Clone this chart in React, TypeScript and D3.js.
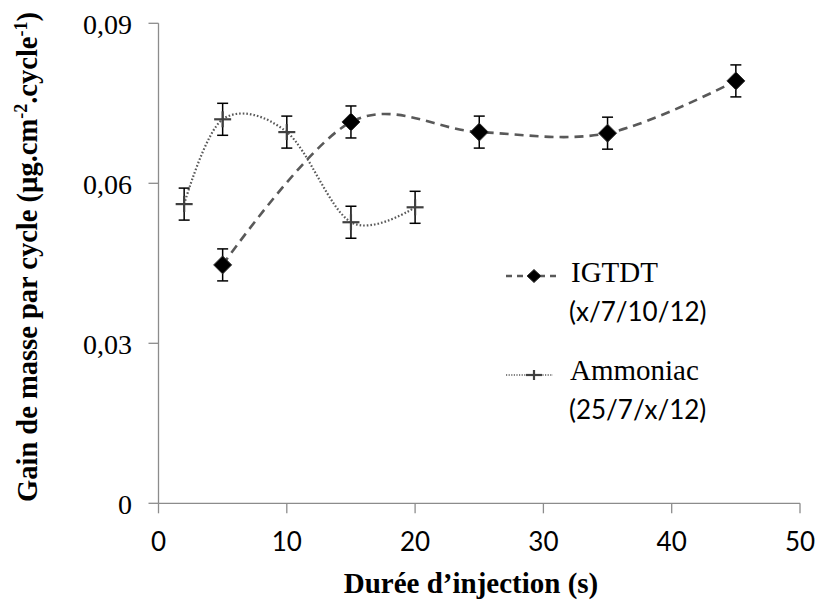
import React from "react";
import * as d3 from "d3";

const igtdtX = [5, 15, 25, 35, 45];
const igtdtY = [0.0447, 0.0715, 0.0696, 0.0694, 0.0792];
const igtdtErr = [0.003, 0.003, 0.003, 0.003, 0.003];

const ammX = [2, 5, 10, 15, 20];
const ammY = [0.0561, 0.072, 0.0696, 0.0527, 0.0555];
const ammErr = [0.003, 0.003, 0.003, 0.003, 0.003];

const xTicks = [0, 10, 20, 30, 40, 50];
const yTicks = [0, 0.03, 0.06, 0.09];
const yTickLabels = ["0", "0,03", "0,06", "0,09"];

const legendNames = ["IGTDT", "Ammoniac"];
const legendSubs = ["(x/7/10/12)", "(25/7/x/12)"];

const SERIF = "'Liberation Serif', 'Times New Roman', serif";
const SANS = "Lato, 'Open Sans', sans-serif";

export default function App() {
  const x = d3.scaleLinear().domain([0, 50]).range([158.5, 800]);
  const y = d3.scaleLinear().domain([0, 0.09]).range([503.3, 23.3]);
  const axisColor = "#8c8c8c";
  const lineColor = "#595959";

  const line = d3
    .line<[number, number]>()
    .x((d) => x(d[0]))
    .y((d) => y(d[1]))
    .curve(d3.curveCatmullRom.alpha(0));

  const igPts: [number, number][] = igtdtX.map((v, i) => [v, igtdtY[i]]);
  const amPts: [number, number][] = ammX.map((v, i) => [v, ammY[i]]);

  const errBar = (xv: number, yv: number, e: number, key: string) => (
    <g key={key} stroke="#000" strokeWidth={1.5}>
      <line x1={x(xv)} x2={x(xv)} y1={y(yv + e)} y2={y(yv - e)} />
      <line x1={x(xv) - 5.5} x2={x(xv) + 5.5} y1={y(yv + e)} y2={y(yv + e)} />
      <line x1={x(xv) - 5.5} x2={x(xv) + 5.5} y1={y(yv - e)} y2={y(yv - e)} />
    </g>
  );

  const diamond = (cx: number, cy: number, hw: number, hh: number, key: string) => (
    <path
      key={key}
      d={`M${cx},${cy - hh}L${cx + hw},${cy}L${cx},${cy + hh}L${cx - hw},${cy}Z`}
      fill="#000"
      stroke="#333"
      strokeWidth={1}
    />
  );

  const plus = (cx: number, cy: number, hw: number, hh: number, key: string) => (
    <g key={key} stroke="#404040" strokeWidth={2.2}>
      <line x1={cx - hw} x2={cx + hw} y1={cy} y2={cy} />
      <line x1={cx} x2={cx} y1={cy - hh} y2={cy + hh} />
    </g>
  );

  return (
    <svg
      width={818}
      height={603}
      style={{ position: "absolute", left: 0, top: 0, background: "#fff" }}
    >
      <rect width={818} height={603} fill="#fff" />
      {/* axes */}
      <g stroke={axisColor} strokeWidth={1.3}>
        <line x1={x(0)} x2={x(0)} y1={y(0.09)} y2={y(0)} />
        <line x1={x(0)} x2={x(50)} y1={y(0)} y2={y(0)} />
        {yTicks.map((t) => (
          <line key={"yt" + t} x1={x(0) - 10} x2={x(0)} y1={y(t)} y2={y(t)} />
        ))}
        {xTicks.map((t) => (
          <line key={"xt" + t} x1={x(t)} x2={x(t)} y1={y(0)} y2={y(0) + 10} />
        ))}
      </g>
      {yTicks.map((t, i) => (
        <text
          key={"yl" + t}
          x={132}
          y={y(t) + 10.5}
          textAnchor="end"
          fontFamily={SERIF}
          fontSize={28}
          fill="#000"
        >
          {yTickLabels[i]}
        </text>
      ))}
      {xTicks.map((t) => (
        <text
          key={"xl" + t}
          x={x(t)}
          y={551}
          textAnchor="middle"
          fontFamily={SANS}
          fontSize={26}
          fill="#000"
        >
          {t}
        </text>
      ))}
      {/* axis titles */}
      <text
        x={471}
        y={593}
        textAnchor="middle"
        fontFamily={SERIF}
        fontWeight="bold"
        fontSize={29}
        fill="#000"
      >
        Durée d’injection (s)
      </text>
      <text
        transform="translate(37,257) rotate(-90)"
        textAnchor="middle"
        fontFamily={SERIF}
        fontWeight="bold"
        fontSize={28.5}
        fill="#000"
      >
        Gain de masse  par cycle (µg.cm
        <tspan dy={-10} fontSize={18}>-2</tspan>
        <tspan dy={10}>.cycle</tspan>
        <tspan dy={-10} fontSize={18}>-1</tspan>
        <tspan dy={10}>)</tspan>
      </text>

      {/* series lines */}
      <path
        d={line(amPts) || ""}
        fill="none"
        stroke={lineColor}
        strokeWidth={2.2}
        strokeDasharray="1.6,2"
      />
      <path
        d={line(igPts) || ""}
        fill="none"
        stroke={lineColor}
        strokeWidth={2.6}
        strokeDasharray="9,6"
      />

      {/* error bars */}
      {amPts.map((p, i) => errBar(p[0], p[1], ammErr[i], "ae" + i))}
      {igPts.map((p, i) => errBar(p[0], p[1], igtdtErr[i], "ie" + i))}

      {/* markers */}
      {amPts.map((p, i) => plus(x(p[0]), y(p[1]), 8.5, 8, "am" + i))}
      {igPts.map((p, i) => diamond(x(p[0]), y(p[1]), 9, 9, "im" + i))}

      {/* legend */}
      <line x1={506} x2={556} y1={276} y2={276} stroke={lineColor} strokeWidth={2.4} strokeDasharray="6,5" />
      {diamond(534, 276, 7, 6.5, "lgd1")}
      <text x={571} y={282} fontFamily={SERIF} fontSize={29} fill="#000">
        {legendNames[0]}
      </text>
      <text x={569} y={321} fontFamily={SANS} fontSize={26} fill="#000">
        {legendSubs[0]}
      </text>

      <line x1={506} x2={553} y1={375} y2={375} stroke={lineColor} strokeWidth={1.6} strokeDasharray="1.2,1.4" />
      {plus(534, 375, 8, 5, "lgd2")}
      <text x={570} y={380} fontFamily={SERIF} fontSize={29} fill="#000">
        {legendNames[1]}
      </text>
      <text x={569} y={419} fontFamily={SANS} fontSize={26} fill="#000">
        {legendSubs[1]}
      </text>
    </svg>
  );
}
